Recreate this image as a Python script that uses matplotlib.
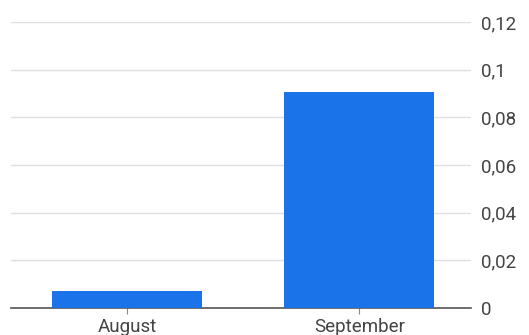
import matplotlib.pyplot as plt
from matplotlib.ticker import FuncFormatter

months = ['August', 'September']
values = [0.0071, 0.0906]
y_ticks = [0, 0.02, 0.04, 0.06, 0.08, 0.1, 0.12]

plt.rcParams['font.family'] = ['Roboto', 'DejaVu Sans']

fig = plt.figure(figsize=(5.29, 3.35), dpi=100)
ax = fig.add_axes([0.021, 0.081, 0.869, 0.853])

ax.bar(range(len(months)), values, width=0.645, color='#1a73e8', zorder=3)

ax.set_xlim(-0.5, 1.48)
ax.set_ylim(0, 0.12)
ax.set_xticks(range(len(months)))
ax.set_xticklabels(months)
ax.set_yticks(y_ticks)
ax.yaxis.set_major_formatter(FuncFormatter(lambda v, p: f'{v:g}'.replace('.', ',')))
ax.yaxis.tick_right()

ax.grid(axis='y', color='#e0e0e0', linewidth=1, zorder=0)
for side in ['top', 'left', 'right']:
    ax.spines[side].set_visible(False)
ax.spines['bottom'].set_color('#555555')
ax.spines['bottom'].set_linewidth(1.2)

ax.tick_params(axis='y', length=0, pad=7, labelsize=13.5, labelcolor='#444444')
ax.tick_params(axis='x', length=4, color='#888888', pad=3, labelsize=13.5, labelcolor='#444444')

fig.savefig('out.png', dpi=100)
